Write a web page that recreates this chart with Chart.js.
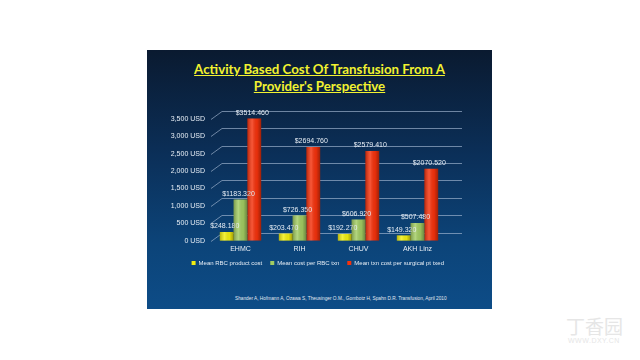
<!DOCTYPE html>
<html>
<head>
<meta charset="utf-8">
<script src="https://cdn.jsdelivr.net/npm/chart.js@4.4.1/dist/chart.umd.min.js"></script>
<style>
  html, body { margin: 0; padding: 0; background: #fff; width: 640px; height: 360px; overflow: hidden; }
  #slide {
    position: absolute; left: 147px; top: 50px; width: 345px; height: 259px;
    background: linear-gradient(to bottom, #0a1a30 0%, #0b2f58 40%, #0c4479 75%, #0d4c87 100%);
  }
  #title {
    position: absolute; left: 0; top: 10px; width: 345px; text-align: center;
    font-family: Lato, "Open Sans", sans-serif; font-weight: bold; font-size: 14px;
    line-height: 17px; color: #f2f230; text-decoration: underline;
    transform: scaleX(0.95);
  }
  #chartBox { position: absolute; left: 0; top: 50px; width: 345px; height: 176px; }
  #note {
    position: absolute; left: 88px; top: 246px; width: 260px; text-align: left;
    font-family: "Liberation Sans", Arial, sans-serif; font-size: 4.75px; color: #e0e8f0; white-space: nowrap;
  }
  #wm1 { position: absolute; left: 566px; top: 312px; font-family: "Noto Sans CJK SC", sans-serif; font-size: 19px; color: #e6e6e6; }
  #wm2 { position: absolute; left: 568px; top: 337px; font-family: "Liberation Sans", sans-serif; font-size: 7px; color: #e6e6e6; letter-spacing: 0.5px; }
</style>
</head>
<body>
<div id="slide">
  <div id="title">Activity Based Cost Of Transfusion From A<br>Provider's Perspective</div>
  <div id="chartBox"><canvas id="myChart"></canvas></div>
  <div id="note">Shander A, Hofmann A, Ozawa S, Theusinger O.M., Gombotz H, Spahn D.R.  Transfusion, April 2010</div>
</div>
<div id="wm1">丁香园</div>
<div id="wm2">WWW.DXY.CN</div>
<script>
const hospitals = ['EHMC', 'RIH', 'CHUV', 'AKH Linz'];
const productCost = [248.18, 203.47, 192.27, 149.32];   // Mean RBC product cost
const costPerTxn = [1183.32, 726.35, 606.92, 507.48];  // Mean cost per RBC txn
const costPerPt = [3514.46, 2694.76, 2579.41, 2070.52]; // Mean txn cost per surgical pt txed
const seriesNames = ['Mean RBC product cost', 'Mean cost per RBC txn', 'Mean txn cost per surgical pt txed'];

const labelFont = '7px "Liberation Sans", Arial, sans-serif';

// 3D 느낌의 격자선
const gridPlugin = {
  id: 'gridLines',
  beforeDatasetsDraw: (chart) => {
    const { ctx, chartArea } = chart;
    const yScale = chart.scales.y;
    ctx.save();
    ctx.strokeStyle = 'rgba(165,185,210,0.65)';
    ctx.lineWidth = 1;
    yScale.ticks.forEach((t) => {
      const y = Math.round(yScale.getPixelForValue(t.value)) + 0.5;
      ctx.beginPath();
      ctx.moveTo(chartArea.left, y);
      ctx.lineTo(chartArea.left + 11, y - 8);
      ctx.lineTo(chartArea.right + 15, y - 8);
      ctx.stroke();
    });
    ctx.restore();
  }
};

// 막대 음영 + 값 표시
const barPlugin = {
  id: 'barLabels',
  afterDatasetsDraw: (chart) => {
    const { ctx } = chart;
    ctx.save();
    chart.data.datasets.forEach((ds, di) => {
      chart.getDatasetMeta(di).data.forEach((bar, i) => {
        const w = bar.width;
        const left = bar.x - w / 2;
        const g = ctx.createLinearGradient(left, 0, left + w, 0);
        g.addColorStop(0, 'rgba(0,0,0,0.25)');
        g.addColorStop(0.35, 'rgba(255,255,255,0.18)');
        g.addColorStop(0.7, 'rgba(0,0,0,0.05)');
        g.addColorStop(1, 'rgba(0,0,0,0.35)');
        ctx.fillStyle = g;
        ctx.fillRect(left, bar.y, w, bar.base - bar.y);

        ctx.fillStyle = '#e6edf5';
        ctx.font = labelFont;
        ctx.textAlign = 'center';
        ctx.textBaseline = 'bottom';
        ctx.fillText('$' + ds.data[i].toFixed(3), bar.x - 2, bar.y - 2);
      });
    });
    ctx.restore();
  }
};

new Chart(document.getElementById('myChart'), {
  type: 'bar',
  data: {
    labels: hospitals,
    datasets: [
      { label: seriesNames[0], data: productCost, backgroundColor: '#f2ee10' },
      { label: seriesNames[1], data: costPerTxn, backgroundColor: '#a2cc62' },
      { label: seriesNames[2], data: costPerPt, backgroundColor: '#f5320c' }
    ]
  },
  options: {
    responsive: true,
    maintainAspectRatio: false,
    animation: false,
    datasets: { bar: { categoryPercentage: 0.7, barPercentage: 1.0, clip: false } },
    layout: { padding: { top: 19, right: 45, bottom: 0, left: 0 } },
    scales: {
      x: {
        grid: { display: false, drawTicks: false },
        border: { display: false },
        ticks: { color: '#e6edf5', font: { size: 7, family: '"Liberation Sans", Arial, sans-serif' }, padding: 4 }
      },
      y: {
        min: 0, max: 3500,
        grid: { display: false, drawTicks: false },
        border: { display: false },
        afterFit: (scale) => { scale.width = 64; },
        ticks: {
          stepSize: 500,
          color: '#e6edf5',
          padding: 6,
          font: { size: 7, family: '"Liberation Sans", Arial, sans-serif' },
          callback: (v) => v.toLocaleString('en-US') + ' USD'
        }
      }
    },
    plugins: {
      tooltip: { enabled: false },
      legend: {
        position: 'bottom',
        align: 'end',
        labels: {
          color: '#e6edf5',
          boxWidth: 4, boxHeight: 4,
          padding: 3,
          font: { size: 6, family: '"Liberation Sans", Arial, sans-serif' },
          // 항목 사이 간격을 넓히기 위해 뒤에 공백 추가
          generateLabels: (chart) => {
            const items = Chart.defaults.plugins.legend.labels.generateLabels(chart);
            items.forEach((it, i) => { if (i < items.length - 1) it.text += '   '; });
            return items;
          }
        }
      }
    }
  },
  plugins: [gridPlugin, barPlugin]
});
</script>
</body>
</html>
